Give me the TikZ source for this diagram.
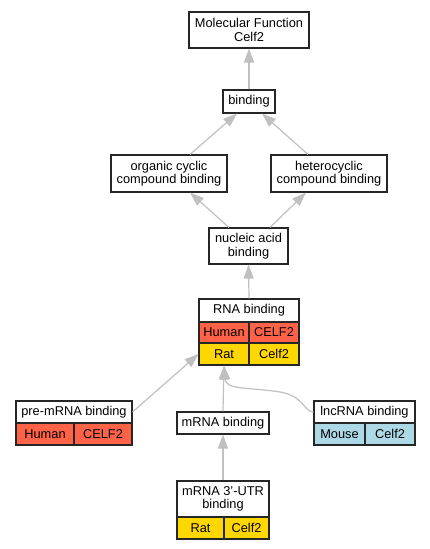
\documentclass[tikz,border=0pt]{standalone}
\usepackage{fontspec}
\setmainfont{Liberation Sans}
\usetikzlibrary{arrows.meta}
\definecolor{hum}{HTML}{FF6347}
\definecolor{rat}{HTML}{FFD700}
\definecolor{mou}{HTML}{ADD8E6}
\definecolor{edgec}{HTML}{C0C0C0}
\begin{document}
\begin{tikzpicture}[x=1pt,y=-1pt,
  box/.style={draw=black!85, line width=1.1pt, fill=white, inner sep=0pt, align=center,
    font=\fontsize{12.8}{13.5}\selectfont},
  cell/.style={box},
  edge/.style={draw=edgec, line width=1.2pt, -{Triangle[length=14pt,width=10pt,fill=edgec]}}]
\useasboundingbox (0,0) rectangle (429,549);
% nodes
\node[box, minimum width=120pt, minimum height=36pt] (mf) at (249,30) {Molecular Function\\Celf2};
\node[box, minimum width=52pt, minimum height=23pt] (bind) at (249,101.5) {binding};
\node[box, minimum width=116pt, minimum height=37pt] (org) at (169,173.5) {organic cyclic\\compound binding};
\node[box, minimum width=116pt, minimum height=37pt] (het) at (329,173.5) {heterocyclic\\compound binding};
\node[box, minimum width=79pt, minimum height=36pt] (nuc) at (248.5,246) {nucleic acid\\binding};
% RNA binding
\node[box, minimum width=100pt, minimum height=23pt] (rna) at (249,310.5) {RNA binding};
\node[cell, fill=hum, minimum width=50pt, minimum height=21pt] (rnaH1) at (224,332.5) {Human};
\node[cell, fill=hum, minimum width=50pt, minimum height=21pt] (rnaH2) at (274,332.5) {CELF2};
\node[cell, fill=rat, minimum width=50pt, minimum height=22pt] (rnaR1) at (224,354) {Rat};
\node[cell, fill=rat, minimum width=50pt, minimum height=22pt] (rnaR2) at (274,354) {Celf2};
% pre-mRNA
\node[box, minimum width=116pt, minimum height=22pt] (pre) at (74,412) {pre-mRNA binding};
\node[cell, fill=hum, minimum width=58pt, minimum height=22pt] (preH1) at (45,434) {Human};
\node[cell, fill=hum, minimum width=58pt, minimum height=22pt] (preH2) at (103,434) {CELF2};
% mRNA binding
\node[box, minimum width=92pt, minimum height=22pt] (mrna) at (223,423) {mRNA binding};
% lncRNA
\node[box, minimum width=101pt, minimum height=22pt] (lnc) at (364.5,412) {lncRNA binding};
\node[cell, fill=mou, minimum width=51pt, minimum height=22pt] (lncM1) at (339.5,434) {Mouse};
\node[cell, fill=mou, minimum width=50pt, minimum height=22pt] (lncM2) at (390,434) {Celf2};
% mRNA 3'-UTR
\node[box, minimum width=92pt, minimum height=36pt] (utr) at (223,499) {mRNA 3'-UTR\\binding};
\node[cell, fill=rat, minimum width=47pt, minimum height=22pt] (utrR1) at (200.5,528) {Rat};
\node[cell, fill=rat, minimum width=45pt, minimum height=22pt] (utrR2) at (246.5,528) {Celf2};
% edges
\draw[edge] (bind.north) -- (mf.south);
\draw[edge] ([xshift=21pt]org.north) -- ([xshift=-12pt]bind.south);
\draw[edge] ([xshift=-21pt]het.north) -- ([xshift=13pt]bind.south);
\draw[edge] ([xshift=-19.5pt]nuc.north) -- ([xshift=21pt]org.south);
\draw[edge] ([xshift=21.5pt]nuc.north) -- ([xshift=-23pt]het.south);
\draw[edge] (rna.north) -- (nuc.south);
\draw[edge] (pre.east) -- (rnaR1.west);
\draw[edge] (mrna.north) -- (rnaR1.south);
\draw[edge] (utr.north) -- (mrna.south);
\draw[edge] (lnc.west) .. controls (304,412) and (304,396) .. (280,392)
  .. controls (248,387) and (226,390) .. (rnaR1.south);
\end{tikzpicture}
\end{document}
